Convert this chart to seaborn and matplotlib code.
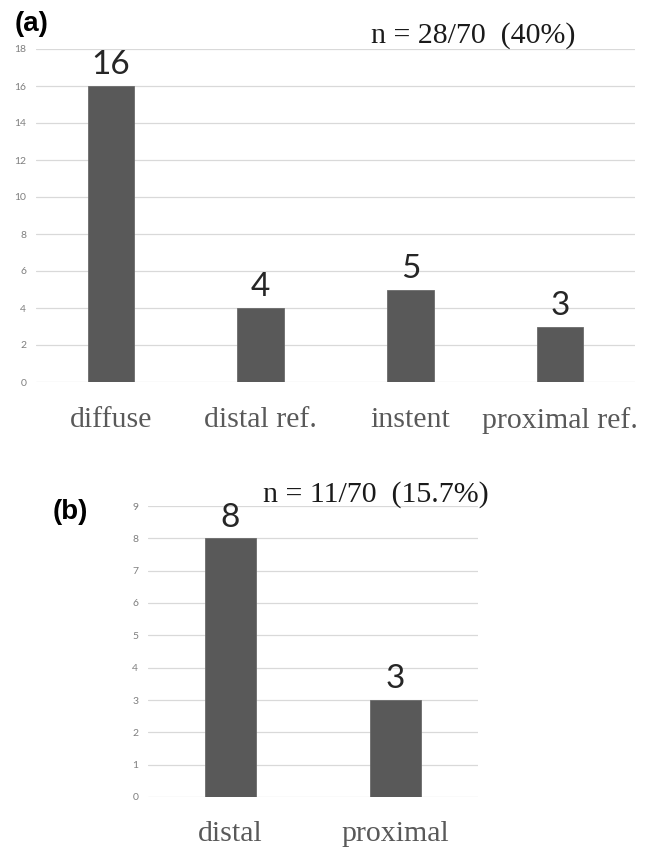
import matplotlib
matplotlib.use("Agg")
import matplotlib.pyplot as plt
import seaborn as sns

# Restenosis pattern counts
cats_a = ["diffuse", "distal ref.", "instent", "proximal ref."]
vals_a = [16, 4, 5, 3]
ticks_a = [0, 2, 4, 6, 8, 10, 12, 14, 16, 18]
note_a = "n = 28/70  (40%)"

cats_b = ["distal", "proximal"]
vals_b = [8, 3]
ticks_b = [0, 1, 2, 3, 4, 5, 6, 7, 8, 9]
note_b = "n = 11/70  (15.7%)"

sns.set_theme(style="white")

W, H = 648, 849
fig = plt.figure(figsize=(W / 100, H / 100), dpi=100)

BAR = "#595959"
GRID = "#d9d9d9"


def px_axes(left, top, right, bottom):
    return fig.add_axes([left / W, 1 - bottom / H, (right - left) / W, (bottom - top) / H])


def panel(ax, cats, vals, ticks, label_pad):
    sns.barplot(x=cats, y=vals, color=BAR, saturation=1, width=0.31,
                edgecolor="#6b6b6b", linewidth=0.6, ax=ax, zorder=3)
    ax.set_ylim(ticks[0], ticks[-1])
    ax.set_yticks(ticks)
    ax.set_xlim(-0.5, len(cats) - 0.5)
    for s in ax.spines.values():
        s.set_visible(False)
    ax.grid(axis="y", color=GRID, linewidth=0.9, zorder=0)
    ax.grid(axis="x", visible=False)
    ax.set_axisbelow(True)
    ax.tick_params(axis="y", length=0, pad=7, labelsize=7.5, labelcolor="#7f7f7f")
    ax.tick_params(axis="x", length=0, pad=label_pad, labelsize=21.5, labelcolor="#595959")
    for t in ax.get_yticklabels():
        t.set_fontfamily("Lato")
    for t in ax.get_xticklabels():
        t.set_fontfamily("Liberation Serif")
    ax.set_xlabel("")
    ax.set_ylabel("")
    for i, v in enumerate(vals):
        ax.annotate(str(v), (i, v), xytext=(0, 4), textcoords="offset points",
                    ha="center", va="bottom", fontsize=24, family="Lato",
                    color="#262626")


ax_a = px_axes(36, 49, 635, 382)
panel(ax_a, cats_a, vals_a, ticks_a, 18)

ax_b = px_axes(148, 506, 478, 797)
panel(ax_b, cats_b, vals_b, ticks_b, 17)

fig.text(371 / W, 1 - 43 / H, note_a, ha="left", va="baseline",
         fontsize=21.5, family="Liberation Serif", color="#1a1a1a")
fig.text(263 / W, 1 - 502 / H, note_b, ha="left", va="baseline",
         fontsize=21.5, family="Liberation Serif", color="#1a1a1a")

fig.text(15 / W, 1 - 24 / H, "(a)", ha="left", va="center",
         fontsize=20, family="Liberation Sans", fontweight="bold", color="black")
fig.text(53 / W, 1 - 512 / H, "(b)", ha="left", va="center",
         fontsize=20, family="Liberation Sans", fontweight="bold", color="black")

fig.savefig("out.png", dpi=100, facecolor="white")
